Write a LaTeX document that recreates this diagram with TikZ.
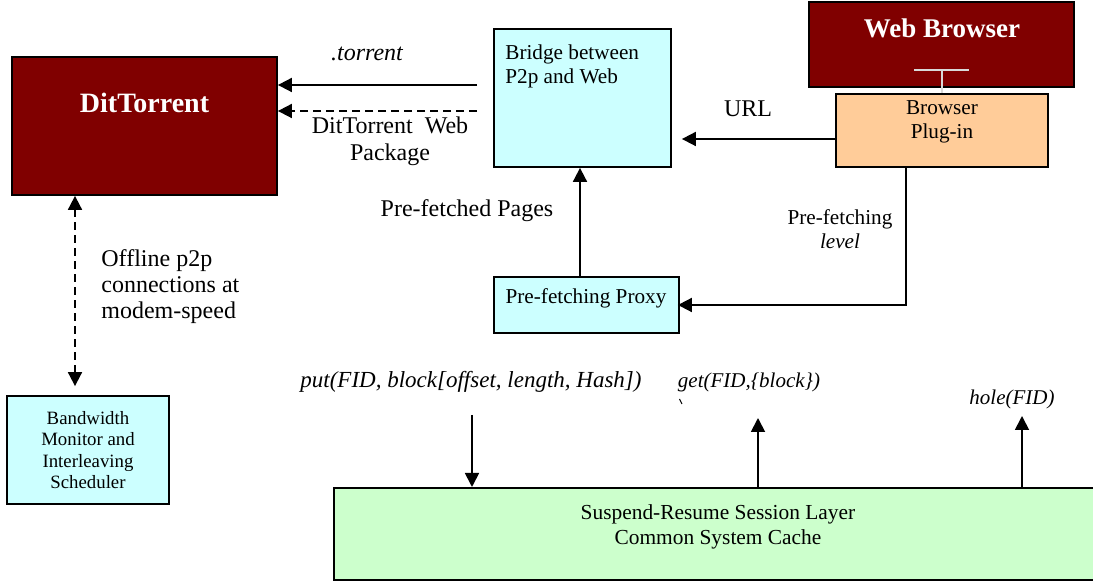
\documentclass[tikz,border=0pt]{standalone}
\usepackage{fontspec}
\setmainfont{Liberation Serif}
\usetikzlibrary{arrows.meta,calc}
\definecolor{darkred}{RGB}{128,0,0}
\definecolor{lcyan}{RGB}{204,255,255}
\definecolor{peach}{RGB}{255,204,153}
\definecolor{lgreen}{RGB}{204,255,204}
\tikzset{
  box/.style={draw=black, line width=0.9pt, inner sep=0pt},
  conn/.style={line width=0.9pt},
  arr/.style={conn, -{Triangle[length=7pt,width=7pt]}},
  dasharr/.style={arr, dash pattern=on 4pt off 2.5pt},
  lbl/.style={inner sep=0pt, font=\fontsize{12}{13.5}\selectfont},
  small/.style={inner sep=0pt, font=\fontsize{10.6}{12}\selectfont},
  ital/.style={inner sep=0pt, font=\itshape\fontsize{10.5}{12.5}\selectfont},
  title/.style={inner sep=0pt, text=white, font=\bfseries\fontsize{14}{16}\selectfont}
}
\begin{document}
\begin{tikzpicture}[x=0.5pt,y=-0.5pt]
\useasboundingbox (0,0) rectangle (1093,581);
% boxes
\node[box, fill=darkred, minimum width=132.5pt, minimum height=69pt] (dit) at (144.5,126) {};
\node[title, anchor=base] (dittxt) at (144.5,113) {DitTorrent};
\node[box, fill=lcyan, minimum width=88.5pt, minimum height=69pt] (bridge) at (582.5,98) {};
\node[small, anchor=west, align=left] (bridgetxt) at (505,66) {Bridge between\\P2p and Web};
\node[box, fill=darkred, minimum width=132.5pt, minimum height=42.5pt] (web) at (941.5,44.5) {};
\node[title, anchor=base, font=\bfseries\fontsize{13.5}{16}\selectfont] (webtxt) at (942,38) {Web Browser};
\draw[white!85!black, line width=1pt] (914,70) -- (969,70);
\node[box, fill=peach, minimum width=106pt, minimum height=36.5pt] (plug) at (942,130.5) {};
\draw[white!85!black, line width=1pt] (942,70) -- (plug.north -| 942,0);
\node[small, align=center] (plugtxt) at (942,122) {Browser\\Plug-in};
\node[box, fill=lcyan, minimum width=92.5pt, minimum height=28pt] (proxy) at (586.5,305) {};
\node[small, anchor=base] (proxytxt) at (586,304) {Pre-fetching Proxy};
\node[box, fill=lcyan, minimum width=81pt, minimum height=54pt, align=center,
      font=\fontsize{9.4}{10.75}\selectfont] (bw) at (88,450) {Bandwidth\\Monitor and\\Interleaving\\Scheduler};
\node[box, fill=lgreen, anchor=north west, minimum width=390pt, minimum height=46pt] (green) at (333,487) {};
\node[inner sep=0pt, align=center, font=\fontsize{10.7}{12.5}\selectfont] (greentxt) at (718,527) {Suspend-Resume Session Layer\\Common System Cache};
% connectors
\draw[arr, shorten <=8pt] (bridge.west |- 0,85) -- (dit.east |- 0,85);
\draw[dasharr, shorten <=8pt] (bridge.west |- 0,111) -- (dit.east |- 0,111);
\draw[dasharr, {Triangle[length=7pt,width=7pt]}-{Triangle[length=7pt,width=7pt]}, shorten >=4.5pt] (dit.south -| 75,0) -- (bw.north -| 75,0);
\draw[arr, shorten >=5pt] (plug.west |- 0,139) -- (bridge.east |- 0,139);
\draw[arr] (proxy.north -| 580,0) -- (bridge.south -| 580,0);
\draw[arr, shorten >=-1pt] (plug.south -| 906,0) |- (proxy.east |- 0,305);
\coordinate (putc) at (472,415);
\coordinate (getc) at (758,418);
\coordinate (holec) at (1022,416);
\draw[arr] (putc) -- (green.north -| putc);
\draw[arr] (green.north -| getc) -- (getc);
\draw[arr] (green.north -| holec) -- (holec);
% labels
\node[lbl, anchor=base, font=\itshape\fontsize{12}{13.5}\selectfont] (torrentlbl) at (367,61) {.torrent};
\node[lbl, align=center] (pkglbl) at (390,141) {DitTorrent\ \ Web\\Package};
\node[lbl, anchor=west, align=left, font=\fontsize{12}{13}\selectfont] (offlbl) at (101,287) {Offline p2p\\connections at\\modem-speed};
\node[lbl, anchor=base] (pfplbl) at (467,217) {Pre-fetched Pages};
\node[lbl, anchor=base] (urllbl) at (748,117) {URL};
\node[small, align=center] (levellbl) at (840,229) {Pre-fetching\\\textit{level}};
\node[ital, anchor=base, font=\itshape\fontsize{11.5}{13}\selectfont] (putlbl) at (471,388) {put(FID, block[offset, length, Hash])};
\node[ital, anchor=base] (getlbl) at (749,388) {get(FID,\{block\})};
\node[ital, anchor=base] (holelbl) at (1012,405) {hole(FID)};
\draw[line width=0.5pt] (679.5,399) -- (682,404);
\end{tikzpicture}
\end{document}
